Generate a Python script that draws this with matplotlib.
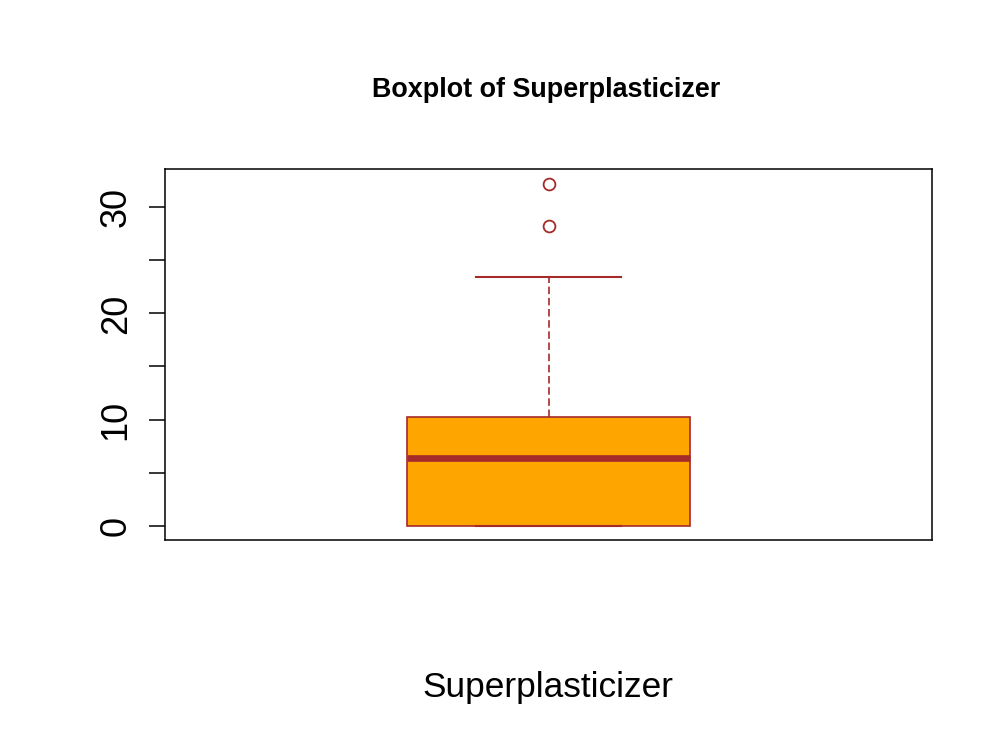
import matplotlib
matplotlib.use("Agg")
import matplotlib.pyplot as plt
from matplotlib.ticker import FixedLocator

# Data
variable = "Superplasticizer"
q1, median, q3 = 0.0, 6.35, 10.2
whisker_low, whisker_high = 0.0, 23.4
outliers = [32.2, 28.2]
major_ticks = [0, 10, 20, 30]
minor_ticks = [5, 15, 25]

box_fill = "#FFA500"
box_edge = "#A52A2A"

fig = plt.figure(figsize=(10, 7.5), dpi=100)
ax = fig.add_axes([0.165, 0.28, 0.767, 0.4947])

stats = [dict(med=median, q1=q1, q3=q3, whislo=whisker_low, whishi=whisker_high,
              fliers=outliers, label="")]
ax.bxp(stats, positions=[1], widths=0.37, patch_artist=True, showfliers=True,
       boxprops=dict(facecolor=box_fill, edgecolor=box_edge, linewidth=1.2),
       medianprops=dict(color=box_edge, linewidth=4.8, solid_capstyle="butt"),
       whiskerprops=dict(color=box_edge, linewidth=1.2, linestyle=(0, (4.5, 2.2))),
       capprops=dict(color=box_edge, linewidth=1.5),
       capwidths=0.188,
       flierprops=dict(marker="o", markerfacecolor="none", markeredgecolor=box_edge,
                       markersize=8.5, markeredgewidth=1.3, linestyle="none"))

ax.set_xlim(0.5, 1.5)
ax.set_ylim(-1.347, 33.61)
ax.set_xticks([])
ax.yaxis.set_major_locator(FixedLocator(major_ticks))
ax.yaxis.set_minor_locator(FixedLocator(minor_ticks))
ax.set_yticklabels([str(t) for t in major_ticks], rotation=90, va="center",
                   family=["Liberation Sans", "DejaVu Sans"], fontsize=26)
ax.tick_params(axis="y", which="both", length=11.5, width=1.1, direction="out",
               colors="black")
ax.tick_params(axis="y", which="major", pad=11)
for s in ax.spines.values():
    s.set_linewidth(1.1)
    s.set_color("black")

fig.text(0.5465, 1 - 97 / 750, "Boxplot of Superplasticizer", ha="center",
         va="baseline", fontsize=19.4, fontweight="bold",
         family=["Liberation Sans", "DejaVu Sans"])
fig.text(0.548, 1 - 697 / 750, variable, ha="center", va="baseline",
         fontsize=25.4,
         family=["Liberation Sans", "DejaVu Sans"])

fig.savefig("out.png", dpi=100)
